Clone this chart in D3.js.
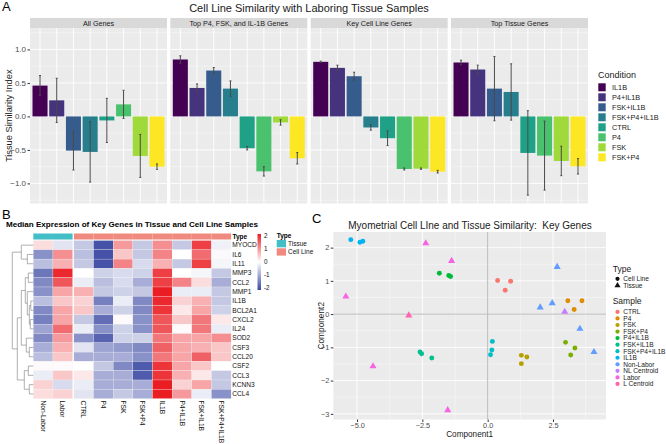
<!DOCTYPE html>
<html><head><meta charset="utf-8">
<script src="https://cdn.jsdelivr.net/npm/d3@7"></script>
<style>
body{margin:0;background:#fff}
svg{display:block}
text{font-family:"Liberation Sans",Arial,Helvetica,sans-serif}
</style>
</head><body>
<svg id="c" width="666" height="444"></svg>
<script>
// ---------------- DATA ----------------
// Panel A
const conditions = ["IL1B","P4+IL1B","FSK+IL1B","FSK+P4+IL1B","CTRL","P4","FSK","FSK+P4"];
const conditionColors = ["#440154","#46337E","#365C8D","#277F8E","#1FA187","#4AC16D","#9FDA3A","#FDE725"];
const facets = ["All Genes","Top P4, FSK, and IL-1B Genes","Key Cell Line Genes","Top Tissue Genes"];
const simAllGenes   = [0.46, 0.24,-0.51,-0.53,-0.06, 0.18,-0.59,-0.75];
const errAllGenes   = [0.15, 0.33, 0.29, 0.45, 0.33, 0.21, 0.32, 0.04];
const simTopTreat   = [0.85, 0.425,0.685,0.415,-0.475,-0.82,-0.09,-0.625];
const errTopTreat   = [0.055,0.06, 0.045,0.115,0.025, 0.07, 0.04, 0.085];
const simKeyCell    = [0.815,0.725,0.60,-0.165,-0.325,-0.785,-0.78,-0.825];
const errKeyCell    = [0.01, 0.04, 0.06, 0.04, 0.11, 0.015,0.01, 0.02];
const simTopTissue  = [0.805,0.70, 0.415,0.365,-0.545,-0.585,-0.665,-0.745];
const errTopTissue  = [0.035,0.065,0.48, 0.42, 0.63, 0.515,0.22, 0.115];
const yTicksA = [-1.0,-0.5,0.0,0.5,1.0];

// Panel B
const genes = ["MYOCD","IL6","IL11","MMP3","CCL2","MMP1","IL1B","BCL2A1","CXCL2","IL24","SOD2","CSF3","CCL20","CSF2","CCL3","KCNN3","CCL4"];
const heatSamples = ["Non-Labor","Labor","CTRL","P4","FSK","FSK+P4","IL1B","P4+IL1B","FSK+IL1B","FSK+P4+IL1B"];
const heatTypes = ["Tissue","Tissue","Cell Line","Cell Line","Cell Line","Cell Line","Cell Line","Cell Line","Cell Line","Cell Line"];
const heatValues = [
  [ 0.3,-0.3,-0.6,-1.9, 0.9,-0.6, 1.0,-0.6, 1.7,-0.15],
  [-1.2, 1.0,-0.7,-1.9, 0.5,-0.6, 1.1, 0.0, 1.3,-0.05],
  [-0.7, 0.7,-0.6,-1.9, 1.1,-0.4, 0.7,-0.6, 1.7,-0.1],
  [-1.5, 1.9, 0.0,-0.5,-0.4,-0.5, 1.7, 0.0,-0.1,-0.6],
  [-1.3, 1.5,-0.2,-0.7,-0.4,-0.9, 1.7, 1.1, 0.3,-0.9],
  [-1.2, 0.8, 0.7,-0.6,-0.5,-0.6, 2.0,-0.2,-0.2,-0.6],
  [-0.7, 0.5, 0.4,-1.4,-0.2,-1.3, 1.9, 0.4, 0.7,-0.6],
  [-1.3, 0.8, 0.5,-0.9,-0.5,-1.3, 1.8, 0.2, 0.8,-0.5],
  [-1.4, 0.8,-0.6,-1.6, 0.05,-1.2,1.5, 0.5, 1.2, 0.2],
  [-1.0, 1.3,-0.2,-1.2,-0.5,-1.2, 1.5, 0.05,1.2,-0.2],
  [-1.3, 0.9,-1.2,-1.7,-0.5,-0.5, 1.2, 0.8, 0.8, 1.0],
  [-0.9, 0.7,-0.3,-1.0,-1.1,-1.3, 1.4, 0.8, 0.7, 0.5],
  [-0.7, 0.5,-0.9,-0.9,-0.9,-1.2, 1.2, 0.8, 1.4, 0.5],
  [ 0.05,0.05,0.0,-0.6,-1.3,-1.8, 1.8, 0.8, 0.5, 0.0],
  [-0.2, 0.5, 0.2,-0.9,-0.9,-1.8, 1.8, 0.7, 0.2,-0.6],
  [ 0.4,-0.4,-0.2,-0.9,-0.9,-0.9, 2.0, 0.4, 0.8,-0.6],
  [ 0.3, 0.4,-0.3,-0.9,-0.6,-0.9, 2.0, 0.9,-0.2,-1.2]
];
const heatLegendTicks = [2,1,0,-1,-2];
// row dendrogram (merge heights in px from heatmap edge)
const rowTree = {h:21,c:[
  {h:12,c:[0,{h:6,c:[1,2]}]},
  {h:16,c:[
    {h:12,c:[
      {h:8,c:[{h:5,c:[3,4]},{h:6,c:[5,{h:4,c:[{h:2.5,c:[6,7]},{h:3,c:[8,9]}]}]}]},
      {h:7,c:[10,{h:4,c:[11,12]}]}
    ]},
    {h:9,c:[{h:5,c:[13,14]},{h:4,c:[15,16]}]}
  ]}
]};

// Panel C
const sampleNames = ["CTRL","P4","FSK","FSK+P4","P4+IL1B","FSK+IL1B","FSK+P4+IL1B","IL1B","Non-Labor","NL Centroid","Labor","L Centroid"];
const sampleColors = ["#F8766D","#DE8C00","#B79F00","#7CAE00","#00BA38","#00C08B","#00BFC4","#00B4F0","#619CFF","#C77CFF","#F564E3","#FF64B0"];
const pcaSample = ["CTRL","CTRL","CTRL","P4","P4","P4","FSK","FSK","FSK","FSK+P4","FSK+P4","FSK+P4",
  "P4+IL1B","P4+IL1B","P4+IL1B","FSK+IL1B","FSK+IL1B","FSK+IL1B","FSK+P4+IL1B","FSK+P4+IL1B","FSK+P4+IL1B",
  "IL1B","IL1B","IL1B","Non-Labor","Non-Labor","Non-Labor","Non-Labor","Non-Labor","NL Centroid",
  "Labor","Labor","Labor","Labor","Labor","L Centroid"];
const pcaType = pcaSample.map((s,i)=> i<24 ? "Cell Line" : "Tissue");
const pcaX = [0.38,0.88,0.67, 3.07,3.61,3.31, 1.29,1.50,1.29, 2.98,3.34,3.18,
  -1.85,-1.49,-1.42, -2.59,-2.53,-2.14, 0.18,0.16,0.11, -5.24,-4.89,-4.78,
  2.66,2.01,2.47,3.53,4.07, 2.95, -2.37,-1.38,-5.43,-4.39,-1.53, -3.02];
const pcaY = [1.01,0.99,0.72, 0.40,0.40,0.14, -1.24,-1.29,-1.49, -0.85,-1.02,-1.23,
  1.23,1.16,1.13, -1.14,-1.19,-1.32, -0.82,-1.08,-1.22, 2.24,2.16,2.19,
  1.42,0.20,0.33,-0.44,-1.14, 0.07, 2.13,1.60,0.53,-1.57,-2.89, -0.04];
const xTicksC = [-5.0,-2.5,0.0,2.5];
const yTicksC = [-3,-2,-1,0,1,2];

// ---------------- DRAW ----------------
const svg = d3.select("#c");
const gridBg = "#EBEBEB", tickCol = "#4D4D4D";

// ===== Panel A =====
svg.append("text").attr("x",2).attr("y",11).attr("font-size",13).text("A");
svg.append("text").attr("x",309).attr("y",12).attr("text-anchor","middle").attr("font-size",11).attr("fill","#1a1a1a")
  .text("Cell Line Similarity with Laboring Tissue Samples");

const aTop = 28, aBot = 203.5, facetW = 137;
const facetX = [30,170.3,310.7,451];
const yA = d3.scaleLinear().domain([-1.3,1.32]).range([aBot,aTop]);
const xA = d3.scaleBand().domain(conditions).range([0,facetW]).paddingInner(0.1).paddingOuter(0.15);
const colA = d3.scaleOrdinal().domain(conditions).range(conditionColors);
const facetSim = [simAllGenes,simTopTreat,simKeyCell,simTopTissue];
const facetErr = [errAllGenes,errTopTreat,errKeyCell,errTopTissue];

facets.forEach((f,i)=>{
  const g = svg.append("g").attr("transform",`translate(${facetX[i]},0)`);
  g.append("rect").attr("x",0).attr("y",aTop).attr("width",facetW).attr("height",aBot-aTop).attr("fill",gridBg);
  const minor = [-1.25,-0.75,-0.25,0.25,0.75,1.25];
  g.selectAll(".mn").data(minor).join("line").attr("x1",0).attr("x2",facetW)
    .attr("y1",d=>yA(d)).attr("y2",d=>yA(d)).attr("stroke","#fff").attr("stroke-width",0.4);
  g.selectAll(".mj").data(yTicksA).join("line").attr("x1",0).attr("x2",facetW)
    .attr("y1",d=>yA(d)).attr("y2",d=>yA(d)).attr("stroke","#fff").attr("stroke-width",0.9);
  g.selectAll(".vx").data(conditions).join("line")
    .attr("x1",d=>xA(d)+xA.bandwidth()/2).attr("x2",d=>xA(d)+xA.bandwidth()/2)
    .attr("y1",aTop).attr("y2",aBot).attr("stroke","#fff").attr("stroke-width",0.9);
  // strip
  g.append("rect").attr("x",0).attr("y",18).attr("width",facetW).attr("height",10).attr("fill","#D9D9D9");
  g.append("text").attr("x",facetW/2).attr("y",25.6).attr("text-anchor","middle").attr("font-size",7.2).attr("fill","#1a1a1a").text(f);
  const sim = facetSim[i], err = facetErr[i];
  g.selectAll(".bar").data(conditions).join("rect")
    .attr("x",d=>xA(d)).attr("width",xA.bandwidth())
    .attr("y",(d,k)=>Math.min(yA(sim[k]),yA(0)))
    .attr("height",(d,k)=>Math.abs(yA(sim[k])-yA(0)))
    .attr("fill",d=>colA(d));
  g.selectAll(".err").data(conditions).join("line")
    .attr("x1",d=>xA(d)+xA.bandwidth()/2).attr("x2",d=>xA(d)+xA.bandwidth()/2)
    .attr("y1",(d,k)=>yA(sim[k]-err[k])).attr("y2",(d,k)=>yA(sim[k]+err[k]))
    .attr("stroke","#4a4a4a").attr("stroke-width",1);
  g.selectAll(".errc").data(conditions).join("g").each(function(d,k){
    const cx = xA(d)+xA.bandwidth()/2;
    [sim[k]-err[k], sim[k]+err[k]].forEach(v=>{
      d3.select(this).append("line").attr("x1",cx-1).attr("x2",cx+1).attr("y1",yA(v)).attr("y2",yA(v))
        .attr("stroke","#4a4a4a").attr("stroke-width",1);
    });
  });
});
// y axis A
const axA = svg.append("g").attr("transform",`translate(${facetX[0]},0)`)
  .call(d3.axisLeft(yA).tickValues(yTicksA).tickFormat(d3.format(".1f")).tickSize(2.5).tickPadding(1.5));
axA.select(".domain").remove();
axA.selectAll("line").attr("stroke","#333");
axA.selectAll("text").attr("font-size",8).attr("fill",tickCol).attr("font-family","Liberation Sans, Arial, sans-serif");
svg.append("text").attr("transform",`translate(12,${(aTop+aBot)/2}) rotate(-90)`).attr("text-anchor","middle")
  .attr("font-size",9.3).attr("fill","#1a1a1a").text("Tissue Similarity Index");
// legend A
svg.append("text").attr("x",598).attr("y",77.5).attr("font-size",9).attr("fill","#1a1a1a").text("Condition");
conditions.forEach((c,i)=>{
  const yy = 83.3 + i*10;
  svg.append("rect").attr("x",598.3).attr("y",yy).attr("width",7.4).attr("height",8).attr("fill",colA(c));
  svg.append("text").attr("x",612).attr("y",yy+6.6).attr("font-size",7.3).attr("fill","#1a1a1a").text(c);
});

// ===== Panel B =====
svg.append("text").attr("x",2).attr("y",218.5).attr("font-size",13).text("B");
svg.append("text").attr("x",6).attr("y",227.3).attr("font-size",7.4).attr("font-weight","bold")
  .attr("textLength",252).attr("lengthAdjust","spacingAndGlyphs")
  .text("Median Expression of Key Genes in Tissue and Cell Line Samples");

const hmL = 33.3, hmGap = 1.3, hmR = 231.1;
const rowsTop = 240.5, rowsBot = 398.6;
const xH = d3.scaleBand().domain(heatSamples).range([hmL, hmR-hmGap]);
const xHpos = d => xH(d) + (heatTypes[heatSamples.indexOf(d)]==="Cell Line" ? hmGap : 0);
const yH = d3.scaleBand().domain(genes).range([rowsTop, rowsBot]);
const heatColor = d3.scaleLinear().domain([-2,0,2]).range(["#3B49A3","#FFFFFF","#EA1D23"]).clamp(true);
const typeColor = d3.scaleOrdinal().domain(["Tissue","Cell Line"]).range(["#44BEC6","#F08A80"]);

// annotation bar
svg.selectAll(".ann").data(heatSamples).join("rect")
  .attr("x",d=>xHpos(d)).attr("y",233.5).attr("width",xH.bandwidth()).attr("height",6)
  .attr("fill",(d,i)=>typeColor(heatTypes[i]));
svg.append("text").attr("x",232.5).attr("y",239).attr("font-size",6.5).attr("font-weight","bold").text("Type");

const cells = [];
genes.forEach((gname,r)=>heatSamples.forEach((s,c)=>cells.push({g:gname,s:s,v:heatValues[r][c]})));
svg.selectAll(".cell").data(cells).join("rect")
  .attr("x",d=>xHpos(d.s)).attr("y",d=>yH(d.g)).attr("width",xH.bandwidth()).attr("height",yH.bandwidth())
  .attr("fill",d=>heatColor(d.v)).attr("stroke","#f4f4f4").attr("stroke-width",0.25);
// row labels
svg.selectAll(".rl").data(genes).join("text")
  .attr("x",hmR+1.2).attr("y",d=>yH(d)+yH.bandwidth()/2+2.3).attr("font-size",6.6).attr("fill","#111").text(d=>d);
// column labels
svg.selectAll(".cl").data(heatSamples).join("text")
  .attr("transform",d=>`translate(${xHpos(d)+xH.bandwidth()/2-2.3},${rowsBot+1.8}) rotate(90)`)
  .attr("font-size",6.7).attr("fill","#111").text(d=>d);
// dendrogram
const dend = svg.append("g").attr("stroke","#7a7a7a").attr("stroke-width",0.6).attr("fill","none");
function drawNode(n){
  if(typeof n === "number") return {x:hmL, y:yH(genes[n])+yH.bandwidth()/2};
  const ch = n.c.map(drawNode);
  const x = hmL - n.h;
  ch.forEach(p=>dend.append("path").attr("d",`M${x},${p.y}H${p.x}`));
  dend.append("path").attr("d",`M${x},${ch[0].y}V${ch[ch.length-1].y}`);
  return {x:x, y:(ch[0].y+ch[ch.length-1].y)/2};
}
drawNode(rowTree);
// colour legend
const legY = d3.scaleLinear().domain([-2,2]).range([288,236]);
const grad = svg.append("defs").append("linearGradient").attr("id","hg").attr("x1",0).attr("x2",0).attr("y1",1).attr("y2",0);
[-2,-1,0,1,2].forEach(v=>grad.append("stop").attr("offset",(v+2)/4).attr("stop-color",heatColor(v)));
svg.append("rect").attr("x",257.5).attr("y",234).attr("width",3.5).attr("height",56).attr("fill","url(#hg)");
svg.selectAll(".lt").data(heatLegendTicks).join("text")
  .attr("x",264).attr("y",d=>legY(d)+2.2).attr("font-size",6.3).attr("fill","#111").text(d=>d);
// type legend
svg.append("text").attr("x",276.7).attr("y",237.5).attr("font-size",6.5).attr("font-weight","bold").text("Type");
["Tissue","Cell Line"].forEach((t,i)=>{
  svg.append("rect").attr("x",276.7).attr("y",240+i*8.3).attr("width",9.3).attr("height",7.3).attr("fill",typeColor(t));
  svg.append("text").attr("x",288).attr("y",246+i*8.3).attr("font-size",6.5).attr("fill","#111").text(t);
});

// ===== Panel C =====
svg.append("text").attr("x",312).attr("y",222.5).attr("font-size",13).text("C");
svg.append("text").attr("x",470).attr("y",228.5).attr("text-anchor","middle").attr("font-size",10).attr("fill","#1a1a1a")
  .style("white-space","pre").text("Myometrial Cell LIne and Tissue Similarity:  Key Genes");
const cL = 333.3, cR = 606, cT = 232, cB = 419.5;
const xC = d3.scaleLinear().domain([-5.91,4.53]).range([cL,cR]);
const yC = d3.scaleLinear().domain([-3.17,2.47]).range([cB,cT]);
const colC = d3.scaleOrdinal().domain(sampleNames).range(sampleColors);
svg.append("rect").attr("x",cL).attr("y",cT).attr("width",cR-cL).attr("height",cB-cT).attr("fill",gridBg);
const gc = svg.append("g");
[-3.75,-1.25,1.25,3.75].forEach(v=>gc.append("line").attr("x1",xC(v)).attr("x2",xC(v)).attr("y1",cT).attr("y2",cB).attr("stroke","#fff").attr("stroke-width",0.4));
[-2.5,-1.5,-0.5,0.5,1.5].forEach(v=>gc.append("line").attr("y1",yC(v)).attr("y2",yC(v)).attr("x1",cL).attr("x2",cR).attr("stroke","#fff").attr("stroke-width",0.4));
xTicksC.forEach(v=>gc.append("line").attr("x1",xC(v)).attr("x2",xC(v)).attr("y1",cT).attr("y2",cB).attr("stroke","#fff").attr("stroke-width",0.9));
yTicksC.forEach(v=>gc.append("line").attr("y1",yC(v)).attr("y2",yC(v)).attr("x1",cL).attr("x2",cR).attr("stroke","#fff").attr("stroke-width",0.9));
gc.append("line").attr("x1",xC(0)).attr("x2",xC(0)).attr("y1",cT).attr("y2",cB).attr("stroke","#B8B8B8").attr("stroke-width",1);
gc.append("line").attr("y1",yC(0)).attr("y2",yC(0)).attr("x1",cL).attr("x2",cR).attr("stroke","#B8B8B8").attr("stroke-width",1);
const circ = d3.symbol(d3.symbolCircle).size(19);
const tri = d3.symbol(d3.symbolTriangle).size(22);
svg.append("g").selectAll("path").data(pcaX.map((x,i)=>({x:x,y:pcaY[i],s:pcaSample[i],t:pcaType[i]}))).join("path")
  .attr("d",d=>d.t==="Cell Line"?circ():tri())
  .attr("transform",d=>`translate(${xC(d.x)},${yC(d.y)})`)
  .attr("fill",d=>colC(d.s));
const axCx = svg.append("g").attr("transform",`translate(0,${cB})`)
  .call(d3.axisBottom(xC).tickValues(xTicksC).tickFormat(d3.format(".1f")).tickSize(2.5).tickPadding(1.2));
const axCy = svg.append("g").attr("transform",`translate(${cL},0)`)
  .call(d3.axisLeft(yC).tickValues(yTicksC).tickFormat(d3.format("d")).tickSize(2.5).tickPadding(1.5));
[axCx,axCy].forEach(a=>{
  a.select(".domain").remove();
  a.selectAll("line").attr("stroke","#333");
  a.selectAll("text").attr("font-size",7.3).attr("fill",tickCol).attr("font-family","Liberation Sans, Arial, sans-serif");
});
svg.append("text").attr("x",(cL+cR)/2).attr("y",436.8).attr("text-anchor","middle").attr("font-size",8.2).attr("fill","#1a1a1a").text("Component1");
svg.append("text").attr("transform",`translate(323.5,${(cT+cB)/2}) rotate(-90)`).attr("text-anchor","middle").attr("font-size",8.3).attr("fill","#1a1a1a").text("Component2");
// legend C
svg.append("text").attr("x",612.7).attr("y",271.5).attr("font-size",8.5).attr("fill","#1a1a1a").text("Type");
["Cell Line","Tissue"].forEach((t,i)=>{
  const yy = 278.8 + i*6.8;
  svg.append("path").attr("d",t==="Cell Line"?d3.symbol(d3.symbolCircle).size(14)():d3.symbol(d3.symbolTriangle).size(16)())
    .attr("transform",`translate(617.5,${yy})`).attr("fill","#111");
  svg.append("text").attr("x",623.3).attr("y",yy+2.3).attr("font-size",6.6).attr("fill","#1a1a1a").text(t);
});
svg.append("text").attr("x",612.7).attr("y",304.3).attr("font-size",8.5).attr("fill","#1a1a1a").text("Sample");
sampleNames.forEach((s,i)=>{
  const yy = 311.9 + i*6.55;
  svg.append("path").attr("d",d3.symbol(d3.symbolCircle).size(14)()).attr("transform",`translate(617.5,${yy})`).attr("fill",colC(s));
  svg.append("text").attr("x",623.3).attr("y",yy+2.3).attr("font-size",6.6).attr("fill","#1a1a1a").text(s);
});
</script>
</body></html>
